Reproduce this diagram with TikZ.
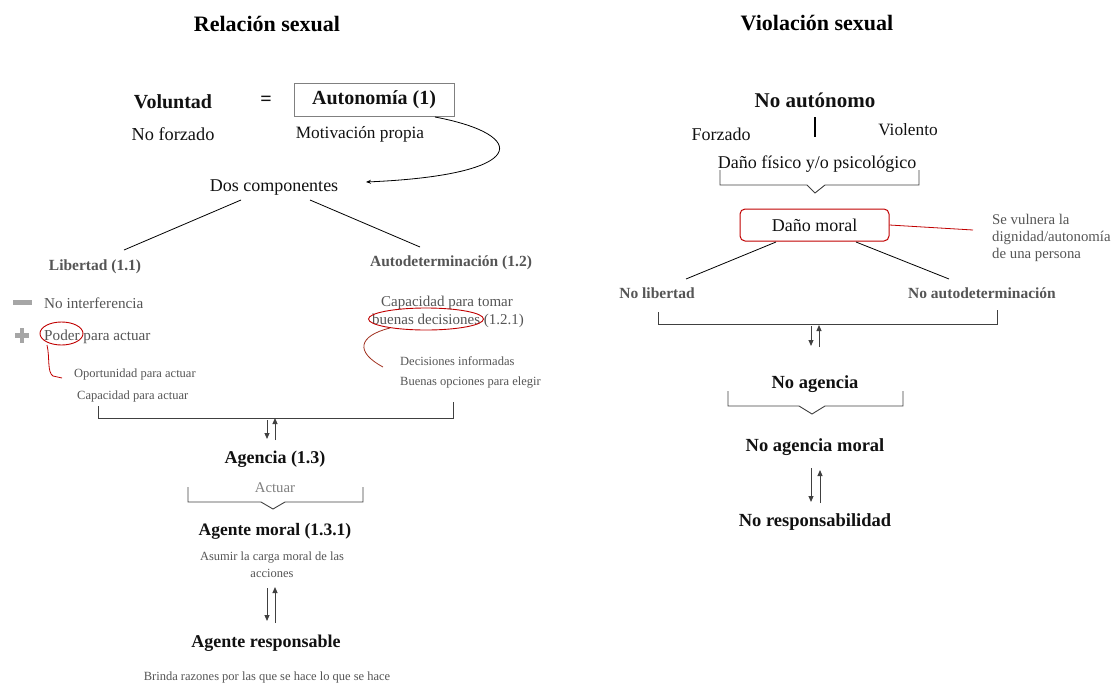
\documentclass[tikz,border=0pt]{standalone}
\usepackage{fontspec}
\setmainfont{Liberation Serif}
\usetikzlibrary{arrows.meta}
\definecolor{txtblack}{HTML}{111111}
\definecolor{txtgray}{HTML}{555555}
\definecolor{lightgray}{HTML}{808080}
\definecolor{icongray}{HTML}{A6A6A6}
\definecolor{arrowgray}{HTML}{404040}
\definecolor{redmark}{HTML}{C00000}
\definecolor{brownred}{HTML}{A0301E}
\newcommand{\fs}[1]{\fontsize{#1}{#1}\selectfont}
\newcommand{\fsl}[2]{\fontsize{#1}{#2}\selectfont}
\tikzset{
  txt/.style={inner sep=0, yshift=-1.5pt},
  title/.style={txt, font=\fs{22}\bfseries, text=black},
  bigbold/.style={txt, font=\fs{20}\bfseries, text=txtblack},
  midbold/.style={txt, font=\fs{18.5}\bfseries, text=txtblack},
  reg/.style={txt, font=\fs{18}, text=txtblack},
  graybold/.style={txt, font=\fs{15.5}\bfseries, text=txtgray},
  grayreg/.style={txt, font=\fs{15.2}, text=txtgray},
  small/.style={txt, font=\fs{12.5}, text=txtgray},
  bracketline/.style={draw=arrowgray, line width=0.9pt},
  connector/.style={draw=black, line width=0.8pt},
  dblarrow/.style={draw=arrowgray, line width=1pt, -{Triangle[length=6pt,width=5pt]}},
}
\begin{document}
\begin{tikzpicture}[x=1pt,y=-1pt]
\useasboundingbox (0,0) rectangle (1119,683);

% ---------------- LEFT ----------------
\node[title] (t1) at (267,22) {Relación sexual};
\node[bigbold] (vol) at (173,100) {Voluntad};
\node[bigbold] (eq) at (266,99) {=};
\node[bigbold, yshift=1.5pt, draw=lightgray, line width=0.8pt, minimum width=160pt, minimum height=33pt] (auto) at (374,100) {Autonomía (1)};
\node[reg, font=\fs{18.3}] (nof) at (173,133) {No forzado};
\node[reg, font=\fs{17.3}] (mot) at (360,133) {Motivación propia};
\node[reg] (dos) at (274,186) {Dos componentes};
\coordinate (curvs) at (435,117);
\coordinate (curve) at (366,182);
\draw[line width=0.8pt, -{Stealth[length=5pt,width=4pt]}] (curvs) .. controls (530,135) and (530,175) .. (curve);

\node[graybold] (lib) at (95,265) {Libertad (1.1)};
\node[graybold] (adet) at (451,261) {Autodeterminación (1.2)};
\coordinate (d1) at (241,200);
\coordinate (l1) at (124,250);
\coordinate (d2) at (310,200);
\coordinate (a1) at (420,247);
\draw[connector] (d1) -- (l1);
\draw[connector] (d2) -- (a1);

% icons
\fill[icongray] (13,300) rectangle (32,304.5);
\fill[icongray] (15,333) rectangle (29,337.5);
\fill[icongray] (19.7,328) rectangle (24.3,342.5);
\node[grayreg, anchor=west] (noint) at (44,302) {No interferencia};
\node[grayreg, anchor=west] (poder) at (44,335) {Poder para actuar};
\draw[redmark, line width=0.9pt] (61.5,333.5) ellipse [x radius=21.5, y radius=11.5];
\draw[redmark, line width=0.8pt] (47,345) .. controls (50,358) and (47,372) .. (53,376) -- (62,378);
\node[small, anchor=west] (oport) at (74,373) {Oportunidad para actuar};
\node[small, anchor=west] (capac) at (77,395) {Capacidad para actuar};

\node[grayreg, font=\fs{15}] (cap1) at (447,301) {Capacidad para tomar};
\node[grayreg, font=\fs{15}] (cap2) at (448,319) {buenas decisiones (1.2.1)};
\draw[redmark, line width=0.9pt] (426,319) ellipse [x radius=57.5, y radius=11];
\draw[brownred, line width=0.8pt] (390,328) .. controls (358,336) and (355,352) .. (383,367);
\node[small, anchor=west] (decinf) at (400,360) {Decisiones informadas};
\node[small, anchor=west] (buenop) at (400,381) {Buenas opciones para elegir};

\draw[bracketline] (98,406) -- (98,418) -- (453,418) -- (453,402);
\draw[dblarrow] (267,420) -- (267,439);
\draw[dblarrow] (275,440) -- (275,418);

\node[bigbold, font=\fs{18}\bfseries] (agencia) at (275,458) {Agencia (1.3)};
\node[txt, font=\fs{14.8}, text=lightgray] (actuar) at (275,486) {Actuar};
\draw[bracketline] (188,487) -- (188,502) -- (261,502) -- (273,509) -- (285,502) -- (363,502) -- (363,487);
\node[bigbold, font=\fs{17.5}\bfseries] (agmoral) at (275,530) {Agente moral (1.3.1)};
\node[small, align=center, font=\fsl{12.5}{17}] (asumir) at (272,563) {Asumir la carga moral de las\\acciones};
\draw[dblarrow] (267,588) -- (267,621);
\draw[dblarrow] (275,623) -- (275,587);
\node[bigbold, font=\fs{18}\bfseries] (agresp) at (266,642) {Agente responsable};
\node[small] (brinda) at (267,676) {Brinda razones por las que se hace lo que se hace};

% ---------------- RIGHT ----------------
\node[title] (t2) at (817,22) {Violación sexual};
\node[bigbold, font=\fs{21}\bfseries] (noaut) at (815,99) {No autónomo};
\draw[black, line width=1.6pt] (815,117) -- (815,137);
\node[reg] (forz) at (721,133) {Forzado};
\node[reg, font=\fs{17.3}] (viol) at (908,128) {Violento};
\node[reg] (dano) at (817,163) {Daño físico y/o psicológico};
\draw[bracketline] (720,170) -- (720,185) -- (807,185) -- (815,193) -- (825,185) -- (919,185) -- (919,170);

\node[reg, yshift=1.5pt, draw=redmark, line width=1pt, rounded corners=5pt, minimum width=149pt, minimum height=32pt] (danom) at (814.5,225) {Daño moral};
\coordinate (redend) at (973,230);
\draw[redmark, line width=0.8pt] (danom.east) -- (redend);
\node[small, anchor=west, align=left, font=\fsl{14.8}{17}] (vuln) at (992,236) {Se vulnera la\\dignidad/autonomía\\de una persona};

\node[graybold] (nolib) at (657,292) {No libertad};
\node[graybold] (noadet) at (982,292) {No autodeterminación};
\coordinate (dm1) at (776,242);
\coordinate (nl1) at (686,279);
\coordinate (dm2) at (856,242);
\coordinate (na1) at (949,279);
\draw[connector] (dm1) -- (nl1);
\draw[connector] (dm2) -- (na1);

\draw[bracketline] (658,312) -- (658,324) -- (997,324) -- (997,310);
\draw[dblarrow] (811,326) -- (811,346);
\draw[dblarrow] (819,347) -- (819,325);

\node[midbold] (noag) at (815,383) {No agencia};
\draw[bracketline] (728,391) -- (728,406) -- (799,406) -- (812,414) -- (825,406) -- (903,406) -- (903,391);
\node[midbold] (noagm) at (815,446) {No agencia moral};
\draw[dblarrow] (811,468) -- (811,502);
\draw[dblarrow] (820,503) -- (820,470);
\node[midbold] (noresp) at (815,521) {No responsabilidad};
\end{tikzpicture}
\end{document}
